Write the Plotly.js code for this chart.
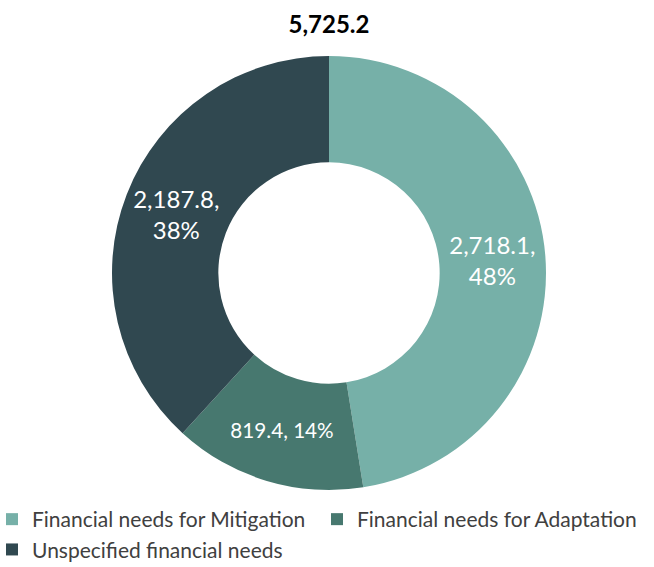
<!DOCTYPE html>
<html>
<head>
<meta charset="utf-8">
<script src="https://cdn.plot.ly/plotly-3.0.1.min.js"></script>
<style>html,body{margin:0;padding:0;background:#fff;}#chart{width:654px;height:567px;}</style>
</head>
<body>
<div id="chart"></div>
<script>
const categories = ["Financial needs for Mitigation", "Financial needs for Adaptation", "Unspecified financial needs"];
const values = [2718.1, 819.4, 2187.8];
const percentLabels = ["48%", "14%", "38%"];
const colors = ["#76b0a8", "#47786f", "#304850"];
const totalTitle = "5,725.2";
const labelTemplates = ["%{value:,.1f},<br>%{customdata}", "%{value:,.1f}, %{customdata}", "%{value:,.1f},<br>%{customdata}"];

const W = 654, H = 567, MB = 76;
const PH = H - MB;
const FONT = "Lato, 'Open Sans', sans-serif";
const trace = {
  type: "pie",
  labels: categories,
  values: values,
  customdata: percentLabels,
  sort: false,
  direction: "clockwise",
  rotation: 0,
  hole: 0.51,
  marker: {colors: colors, line: {width: 0}},
  texttemplate: labelTemplates,
  textposition: "inside",
  insidetextorientation: "horizontal",
  insidetextfont: {family: FONT, size: 24, color: "#ffffff"},
  domain: {x: [112 / W, 546 / W], y: [(PH - 490) / PH, (PH - 56) / PH]},
  hoverinfo: "label+value"
};
const layout = {
  width: W, height: H,
  margin: {l: 0, r: 0, t: 0, b: MB, autoexpand: false},
  paper_bgcolor: "#ffffff",
  font: {family: FONT, color: "#404040"},
  title: {text: "<b>" + totalTitle + "</b>", x: 329 / W, xanchor: "center", y: 1 - 25 / H, yanchor: "middle", yref: "container", font: {size: 24, color: "#000000", family: FONT}},
  showlegend: true,
  legend: {orientation: "h", x: -8 / W, xanchor: "left", y: (PH - 499) / PH, yanchor: "top", font: {size: 21, color: "#404040"}, entrywidth: 280, entrywidthmode: "pixels", traceorder: "normal"}
};
Plotly.newPlot("chart", [trace], layout, {displayModeBar: false, staticPlot: true});
</script>
</body>
</html>
